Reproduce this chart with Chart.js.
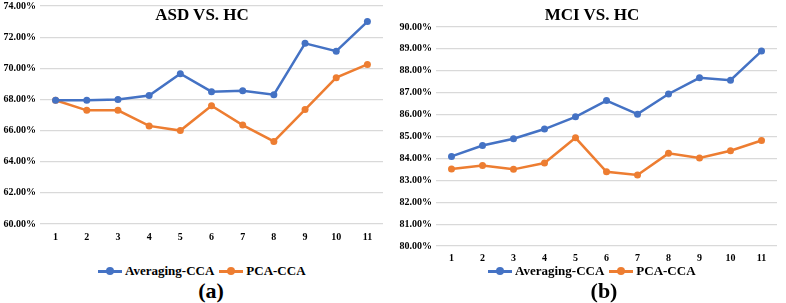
<!DOCTYPE html>
<html lang="en">
  <head>
    <meta charset="UTF-8" />
    <title>ASD vs. HC / MCI vs. HC</title>
    <script src="https://cdn.jsdelivr.net/npm/chart.js"></script>
    <style>
      body {
        margin: 0;
        width: 786px;
        height: 303px;
        background: #ffffff;
        font-family: "Liberation Serif", "Times New Roman", serif;
        font-weight: bold;
        color: #000000;
        position: relative;
        overflow: hidden;
      }

      .panel {
        position: absolute;
        top: 0;
        width: 390px;
      }

      .chart-title {
        position: absolute;
        font-size: 17px;
        line-height: 20px;
        white-space: nowrap;
        transform: translateX(-50%);
      }

      .legend {
        position: absolute;
        display: flex;
        align-items: center;
        font-size: 13px;
        line-height: 16px;
        white-space: nowrap;
      }

      .legend .mark {
        position: relative;
        display: inline-block;
        width: 24px;
        height: 3px;
        margin-right: 3px;
      }

      .legend .mark::after {
        content: "";
        position: absolute;
        left: 8px;
        top: -2.5px;
        width: 8px;
        height: 8px;
        border-radius: 50%;
        background: inherit;
      }

      .legend .item + .item {
        margin-left: 5px;
      }

      .legend .item {
        display: flex;
        align-items: center;
      }

      .caption {
        position: absolute;
        font-size: 22px;
        line-height: 24px;
        transform: translateX(-50%);
      }
    </style>
  </head>
  <body>
    <div class="panel" style="left: 0; top: -4px; height: 254px">
      <canvas id="asdChart"></canvas>
    </div>
    <div class="panel" style="left: 396px; height: 272px">
      <canvas id="mciChart"></canvas>
    </div>

    <div class="chart-title" style="left: 202px; top: 5px">ASD VS. HC</div>
    <div class="chart-title" style="left: 592px; top: 5px">MCI VS. HC</div>

    <div class="legend" style="left: 98px; top: 263px">
      <span class="item"><span class="mark" style="background: #4472c4"></span>Averaging-CCA</span>
      <span class="item"><span class="mark" style="background: #ed7d31"></span>PCA-CCA</span>
    </div>
    <div class="legend" style="left: 488px; top: 263px">
      <span class="item"><span class="mark" style="background: #4472c4"></span>Averaging-CCA</span>
      <span class="item"><span class="mark" style="background: #ed7d31"></span>PCA-CCA</span>
    </div>

    <div class="caption" style="left: 211px; top: 279px">(a)</div>
    <div class="caption" style="left: 604px; top: 279px">(b)</div>

    <script>
      // x categories (shared)
      const labels = ["1", "2", "3", "4", "5", "6", "7", "8", "9", "10", "11"];

      // ASD vs. HC accuracy (%)
      const asdAveraging = [67.95, 67.95, 68.0, 68.25, 69.65, 68.5, 68.55, 68.3, 71.6, 71.1, 73.0];
      const asdPca = [67.95, 67.3, 67.3, 66.3, 66.0, 67.6, 66.35, 65.3, 67.35, 69.4, 70.25];

      // MCI vs. HC accuracy (%)
      const mciAveraging = [84.09, 84.59, 84.9, 85.34, 85.9, 86.64, 86.02, 86.94, 87.68, 87.57, 88.9];
      const mciPca = [83.52, 83.68, 83.5, 83.79, 84.94, 83.39, 83.24, 84.23, 84.02, 84.35, 84.82];

      const blue = "#4472c4";
      const orange = "#ed7d31";
      const tickFont = { family: "'Liberation Serif', serif", size: 10, weight: "bold" };

      function series(label, data, color) {
        return {
          label: label,
          data: data,
          borderColor: color,
          backgroundColor: color,
          borderWidth: 2.5,
          pointRadius: 3.5,
          pointBorderWidth: 0,
          tension: 0,
          clip: false,
        };
      }

      function makeChart(id, avg, pca, yMin, yMax, step, pad, xPad) {
        return new Chart(document.getElementById(id), {
          type: "line",
          data: {
            labels: labels,
            datasets: [series("Averaging-CCA", avg, blue), series("PCA-CCA", pca, orange)],
          },
          options: {
            responsive: true,
            maintainAspectRatio: false,
            animation: false,
            layout: { padding: pad },
            plugins: {
              legend: { display: false },
              tooltip: { enabled: false },
            },
            scales: {
              x: {
                offset: true,
                grid: { display: false, drawTicks: false },
                border: { display: false },
                ticks: { color: "#000", font: tickFont, padding: xPad, maxRotation: 0 },
                afterFit: (s) => {
                  s.height = 26;
                },
              },
              y: {
                min: yMin,
                max: yMax,
                grid: { color: "#d9d9d9", lineWidth: 1.2, drawTicks: false },
                border: { display: false },
                ticks: {
                  stepSize: step,
                  color: "#000",
                  font: tickFont,
                  padding: 4,
                  callback: (v) => v.toFixed(2) + "%",
                },
                afterFit: (s) => {
                  s.width = 40;
                },
              },
            },
          },
        });
      }

      makeChart("asdChart", asdAveraging, asdPca, 60, 74, 2, { top: 2, right: 7, bottom: 0, left: 0 }, 7);
      makeChart("mciChart", mciAveraging, mciPca, 80, 90, 1, { top: 27, right: 9, bottom: 0, left: 0 }, 6);
    </script>
  </body>
</html>
